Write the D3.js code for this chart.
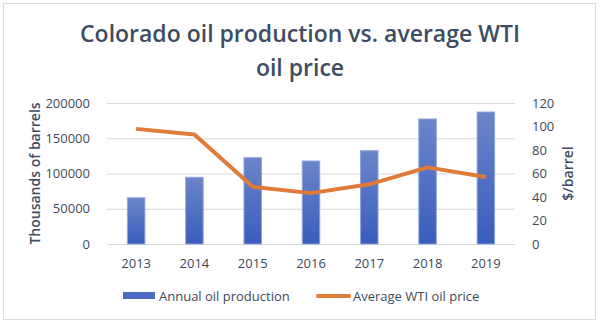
<!DOCTYPE html>
<html>
<head>
<script src="https://d3js.org/d3.v7.min.js"></script>
<style>
  body { margin: 0; background: #fff; }
  text { font-family: "Open Sans", "Noto Sans", sans-serif; }
</style>
</head>
<body>
<svg id="chart" width="600" height="325"></svg>
<script>
const years = ["2013", "2014", "2015", "2016", "2017", "2018", "2019"];
const production = [65500, 94600, 122400, 117700, 132300, 177300, 187200];
const wtiPrice = [97.98, 93.17, 48.66, 43.29, 50.80, 65.23, 56.99];
const leftTicks = [0, 50000, 100000, 150000, 200000];
const rightTicks = [0, 20, 40, 60, 80, 100, 120];

const svg = d3.select("#chart");
const margin = {top: 103, right: 85, bottom: 81, left: 107};
const width = 600, height = 325;

// outer frame
svg.append("rect")
    .attr("x", 3.5).attr("y", 3.5)
    .attr("width", 592).attr("height", 316)
    .attr("fill", "#fff")
    .attr("stroke", "#dcdcdc");

const x = d3.scaleBand().domain(years).range([margin.left, width - margin.right]);
const yLeft = d3.scaleLinear().domain([0, 200000]).range([height - margin.bottom, margin.top]);
const yRight = d3.scaleLinear().domain([0, 120]).range([height - margin.bottom, margin.top]);

const defs = svg.append("defs");
const grad = defs.append("linearGradient").attr("id", "barGrad")
    .attr("x1", 0).attr("y1", 0).attr("x2", 0).attr("y2", 1);
grad.append("stop").attr("offset", "0%").attr("stop-color", "#6b85c8");
grad.append("stop").attr("offset", "100%").attr("stop-color", "#3a5dbd");

// title
svg.append("text")
    .attr("x", 300).attr("y", 42)
    .attr("text-anchor", "middle")
    .attr("font-size", 23).attr("font-weight", 600)
    .attr("fill", "#3e4d62")
    .text("Colorado oil production vs. average WTI");
svg.append("text")
    .attr("x", 300).attr("y", 76)
    .attr("text-anchor", "middle")
    .attr("font-size", 23).attr("font-weight", 600)
    .attr("fill", "#3e4d62")
    .text("oil price");

// gridlines
svg.append("g")
    .attr("transform", `translate(${margin.left},0)`)
    .call(d3.axisLeft(yLeft).tickValues(leftTicks).tickSize(-(width - margin.left - margin.right)).tickFormat(""))
    .call(g => g.select(".domain").remove())
    .call(g => g.selectAll("line").attr("stroke", "#d9d9d9"));

// left axis
svg.append("g")
    .attr("transform", `translate(${margin.left - 14},0)`)
    .call(d3.axisLeft(yLeft).tickValues(leftTicks).tickSize(0).tickFormat(d3.format("d")))
    .call(g => g.select(".domain").remove())
    .call(g => g.selectAll("text").attr("font-size", 13).attr("fill", "#404a5a").attr("font-family", "Open Sans"));

// right axis
svg.append("g")
    .attr("transform", `translate(${width - margin.right + 14},0)`)
    .call(d3.axisRight(yRight).tickValues(rightTicks).tickSize(0))
    .call(g => g.select(".domain").remove())
    .call(g => g.selectAll("text").attr("font-size", 13).attr("fill", "#404a5a").attr("font-family", "Open Sans"));

// x axis
svg.append("g")
    .attr("transform", `translate(0,${height - margin.bottom + 12})`)
    .call(d3.axisBottom(x).tickSize(0))
    .call(g => g.select(".domain").remove())
    .call(g => g.selectAll("text").attr("font-size", 13).attr("fill", "#404a5a").attr("font-family", "Open Sans"));

// axis titles
svg.append("text")
    .attr("transform", `translate(40,${(margin.top + height - margin.bottom) / 2}) rotate(-90)`)
    .attr("text-anchor", "middle")
    .attr("font-size", 14).attr("font-weight", 600)
    .attr("fill", "#3e4d62")
    .text("Thousands of barrels");
svg.append("text")
    .attr("transform", `translate(573,${(margin.top + height - margin.bottom) / 2}) rotate(-90)`)
    .attr("text-anchor", "middle")
    .attr("font-size", 14).attr("font-weight", 600)
    .attr("fill", "#3e4d62")
    .text("$/barrel");

// bars
const barW = x.bandwidth() * 0.3;
svg.append("g").selectAll("rect")
    .data(years)
    .join("rect")
    .attr("x", d => x(d) + (x.bandwidth() - barW) / 2)
    .attr("y", (d, i) => yLeft(production[i]))
    .attr("width", barW)
    .attr("height", (d, i) => yLeft(0) - yLeft(production[i]))
    .attr("fill", "url(#barGrad)")
    .attr("stroke", "#8da3dd")
    .attr("stroke-width", 1);

// price line
const line = d3.line()
    .x((d, i) => x(years[i]) + x.bandwidth() / 2)
    .y(d => yRight(d));
svg.append("path")
    .datum(wtiPrice)
    .attr("d", line)
    .attr("fill", "none")
    .attr("stroke", "#e07b39")
    .attr("stroke-width", 4)
    .attr("stroke-linejoin", "round");

// legend
const legend = svg.append("g").attr("transform", "translate(0,296)");
legend.append("rect")
    .attr("x", 123).attr("y", -4).attr("width", 32).attr("height", 7)
    .attr("fill", "#4a6bc4");
legend.append("text")
    .attr("x", 159).attr("y", 0).attr("dy", "0.35em")
    .attr("font-size", 13).attr("fill", "#404a5a")
    .text("Annual oil production");
legend.append("line")
    .attr("x1", 318).attr("x2", 349).attr("y1", 0).attr("y2", 0)
    .attr("stroke", "#e07b39").attr("stroke-width", 4).attr("stroke-linecap", "round");
legend.append("text")
    .attr("x", 353).attr("y", 0).attr("dy", "0.35em")
    .attr("font-size", 13).attr("fill", "#404a5a")
    .text("Average WTI oil price");
</script>
</body>
</html>
